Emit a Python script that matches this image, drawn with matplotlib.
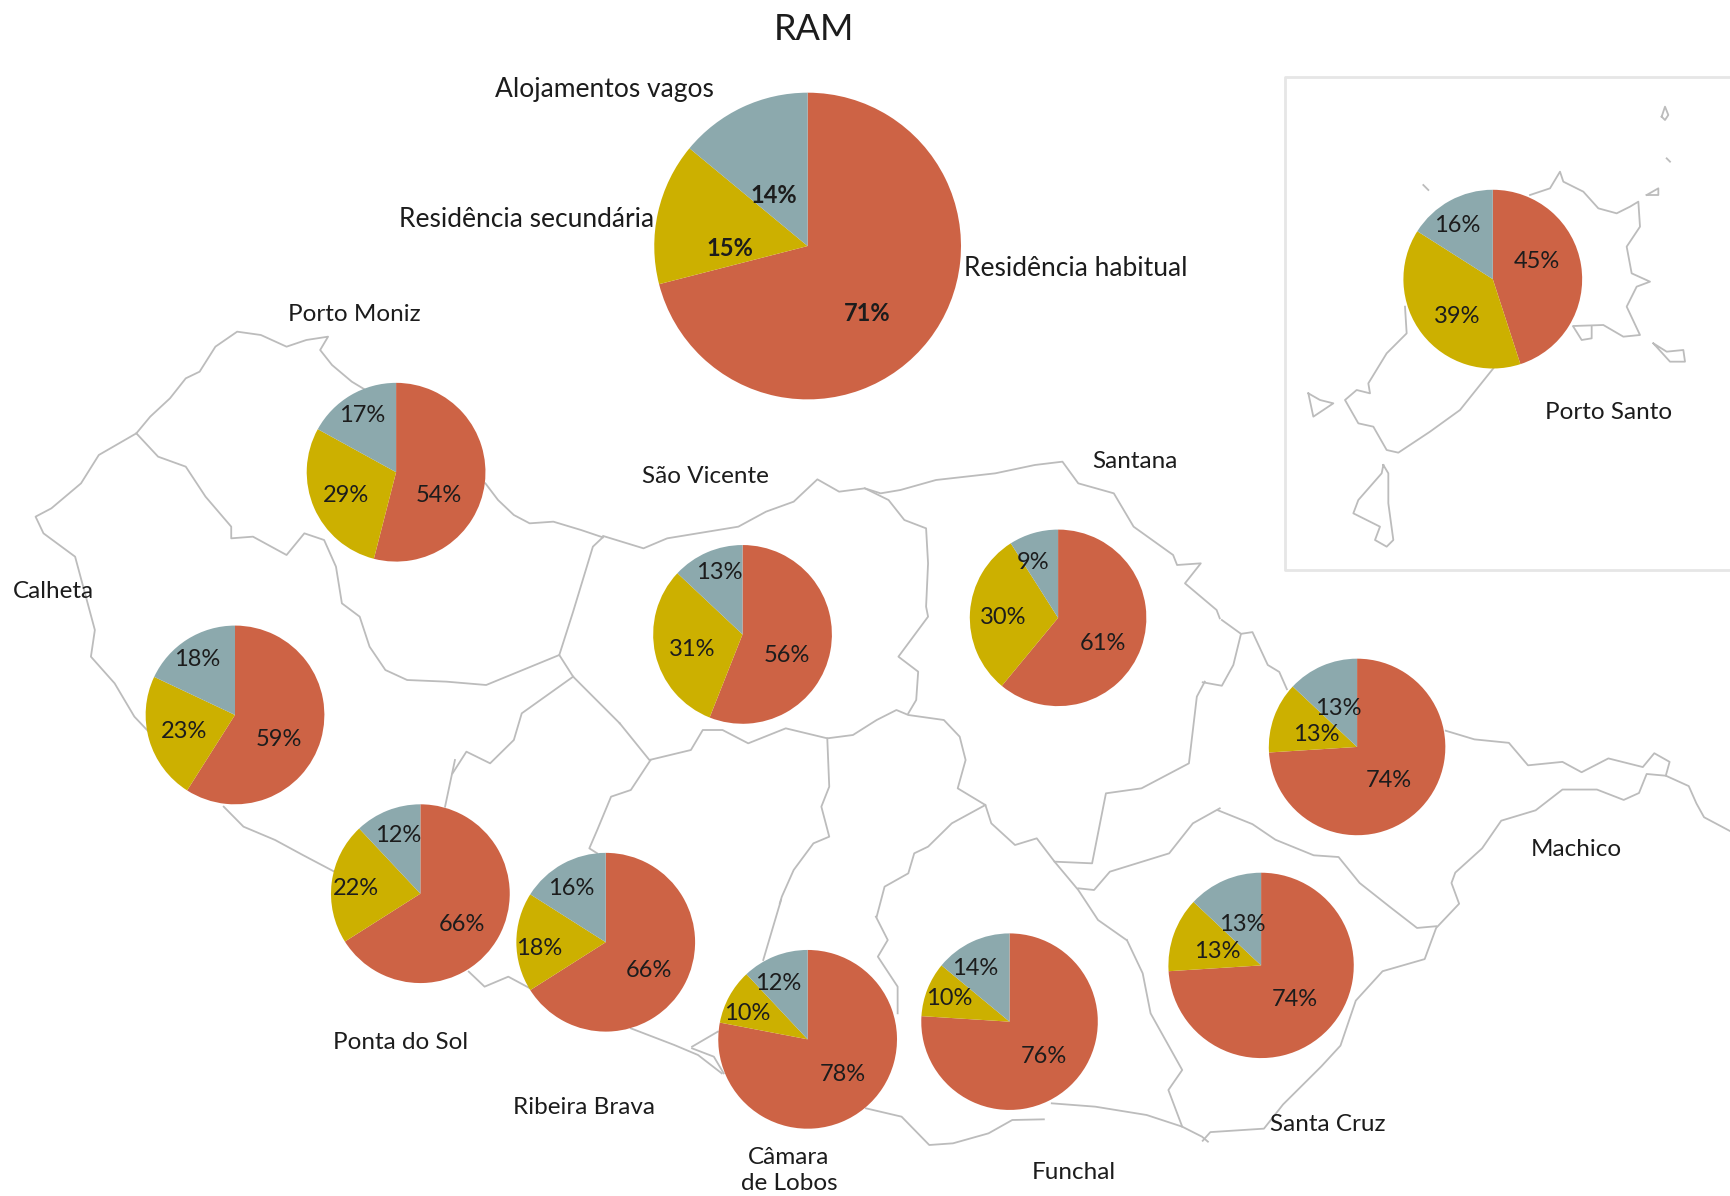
# plot.py
# Housing use by municipality, pies over a map of Madeira and Porto Santo.

import matplotlib.pyplot as plt

plt.rcParams["font.family"] = ["Lato", "DejaVu Sans"]

OUT_NAME = "out.png"
WIDTH = 1730
HEIGHT = 1196
SHOWN = 1730 / 1568  # pie and label places below were read at 1568 wide

RED = "#cd6345"
YELLOW = "#ccb000"
GREY = "#8ca9ad"
LINE = "#bcbcbc"
INK = "#1c1c1c"

categories = ["Residência habitual", "Residência secundária", "Alojamentos vagos"]
regions = ["RAM", "Porto Santo", "Porto Moniz", "São Vicente", "Santana", "Calheta",
           "Ponta do Sol", "Ribeira Brava", "Câmara de Lobos", "Funchal", "Santa Cruz", "Machico"]
habitual = [71, 45, 54, 56, 61, 59, 66, 66, 78, 76, 74, 74]
secundaria = [15, 39, 29, 31, 30, 23, 22, 18, 10, 10, 13, 13]
vagos = [14, 16, 17, 13, 9, 18, 12, 16, 12, 14, 13, 13]

# pie centre and radius
pie_places = [(732, 223, 139), (1353, 253, 81), (359, 428, 81), (673, 575, 81),
              (959, 560, 80), (213, 648, 81), (381, 810, 81), (549, 854, 81),
              (732, 942, 81), (915, 926, 80), (1143, 875, 84), (1230, 677, 80)]

# label centres: habitual, secundaria, vagos
label_places = [
    [(786, 282), (662, 223), (701, 175)],
    [(1393, 235), (1321, 285), (1321, 202)],
    [(398, 447), (314, 447), (328, 375)],
    [(713, 592), (627, 587), (652, 517)],
    [(1000, 581), (909, 558), (936, 508)],
    [(253, 668), (167, 661), (179, 596)],
    [(419, 836), (323, 803), (361, 755)],
    [(588, 878), (489, 858), (518, 803)],
    [(764, 972), (677, 917), (705, 889)],
    [(946, 956), (860, 903), (884, 876)],
    [(1174, 904), (1103, 860), (1126, 836)],
    [(1259, 705), (1193, 664), (1213, 640)],
]

names = [("Porto Moniz", 321, 283), ("São Vicente", 639, 430), ("Santana", 1029, 416),
         ("Calheta", 48, 534), ("Porto Santo", 1458, 372), ("Machico", 1429, 768),
         ("Ponta do Sol", 363, 943), ("Ribeira Brava", 529, 1002),
         ("Câmara\nde Lobos", 715, 1059), ("Funchal", 973, 1061), ("Santa Cruz", 1203, 1017)]
category_places = [(975, 241), (477, 197), (548, 79)]

west_map = (0, 300, 2.53, 3, [
    [(345, 400), (380, 350), (430, 295), (470, 235), (505, 215), (545, 140), (600, 95), (660, 105),
     (725, 140), (775, 120), (830, 110), (810, 150), (840, 195), (890, 245), (925, 270)],
    [(1228, 550), (1260, 600), (1300, 645), (1340, 670), (1400, 665), (1470, 690), (1525, 712)],
    [(345, 400), (250, 465), (205, 550), (130, 625), (90, 650), (110, 700), (190, 770), (215, 880),
     (240, 990), (230, 1070), (290, 1150), (340, 1250), (380, 1300)],
    [(345, 400), (400, 470), (470, 500), (520, 590), (585, 680), (585, 715), (640, 710), (725, 765),
     (770, 700), (820, 720), (850, 800), (865, 910), (910, 950), (935, 1040), (975, 1110), (1030, 1140),
     (1130, 1145), (1230, 1155), (1415, 1065), (1450, 1130), (1568, 1270)],
    [(1415, 1065), (1450, 935), (1500, 740), (1525, 712)],
    [(1450, 1130), (1320, 1240), (1300, 1320), (1240, 1390), (1180, 1355), (1145, 1420)],
])
middle_map = (600, 440, 2.53, 3, [
    [(8, 288), (110, 325), (170, 295), (350, 260), (420, 215), (490, 185), (550, 118), (605, 155),
     (670, 145), (710, 160), (760, 150), (850, 120), (1000, 100), (1100, 75), (1170, 65), (1210, 130),
     (1300, 160), (1350, 260), (1450, 345), (1460, 375), (1520, 370), (1480, 430), (1560, 510), (1568, 535)],
    [(670, 145), (730, 180), (770, 240), (825, 265), (830, 370), (825, 500), (830, 530), (755, 650),
     (805, 695), (800, 780), (780, 820)],
    [(50, 850), (125, 960), (230, 930), (260, 870), (310, 870), (375, 910), (470, 865), (575, 895),
     (640, 885), (700, 840), (750, 810), (780, 825), (870, 840), (910, 890), (925, 960), (905, 1045),
     (975, 1095), (990, 1150), (1050, 1215), (1105, 1195), (1150, 1265), (1245, 1270), (1280, 1060),
     (1370, 1045), (1490, 970), (1510, 770), (1530, 725)],
    [(575, 895), (580, 1040), (560, 1100), (580, 1190), (540, 1210), (490, 1290), (460, 1370), (455, 1390)],
    [(975, 1095), (890, 1150), (830, 1220), (795, 1240), (780, 1300), (720, 1340), (700, 1430)],
    [(1150, 1265), (1210, 1350), (1260, 1440), (1332, 1500)],
    [(1210, 1345), (1250, 1350), (1290, 1295), (1440, 1240), (1500, 1150), (1568, 1105)],
])
east_map = (1130, 620, 2.613, 2.89, [
    [(240, 0), (290, 40), (320, 35), (360, 130), (390, 150), (410, 200)],
    [(290, 40), (270, 130), (240, 190), (190, 180)],
    [(825, 320), (900, 345), (990, 355), (1040, 420), (1130, 410), (1180, 440), (1250, 400), (1340, 425),
     (1370, 385), (1410, 410), (1400, 450), (1460, 480), (1480, 530), (1500, 570), (1568, 610)],
    [(1400, 450), (1350, 445), (1330, 500), (1290, 520), (1220, 490), (1130, 490), (1060, 550), (970, 580),
     (920, 660), (850, 730), (840, 760), (860, 820), (800, 890), (770, 980), (660, 1015), (590, 1100),
     (550, 1230), (500, 1290), (400, 1400), (350, 1470), (210, 1480), (190, 1505)],
    [(230, 550), (320, 590), (380, 635), (480, 680), (545, 685), (600, 760), (680, 830), (750, 890), (800, 885)],
])
south_map = (200, 760, 2.53, 3, [
    [(60, 140), (110, 200), (190, 240), (260, 285), (340, 335)],
    [(680, 635), (720, 680), (780, 650), (835, 685)],
    [(1090, 805), (1200, 855), (1260, 885), (1320, 940)],
    [(1245, 860), (1310, 815)],
    [(1245, 865), (1300, 890), (1325, 940)],
    [(645, 0), (620, 140)],
    [(1140, 0), (1090, 90), (1040, 110), (1005, 210), (985, 265), (1005, 280)],
    [(1470, 420), (1445, 520), (1425, 600)],
])
funchal_map = (700, 880, 2.53, 3, [
    [(420, 685), (510, 710), (580, 795), (640, 790), (730, 760), (790, 720), (870, 718)],
    [(890, 670), (1000, 680), (1130, 705), (1220, 740), (1270, 770), (1285, 785)],
    [(445, 110), (475, 180), (450, 230), (500, 320), (500, 400)],
    [(1080, 180), (1120, 280), (1140, 400), (1220, 570), (1185, 630), (1220, 740)],
])
porto_santo_map = (1270, 60, 3, 3, [
    [(780, 405), (840, 385), (870, 335), (880, 365), (940, 395), (985, 445), (1040, 460), (1080, 440),
     (1105, 425), (1110, 500), (1070, 560), (1085, 640), (1140, 665), (1100, 680), (1070, 740), (1110, 825),
     (1060, 830), (1000, 795), (910, 798)],
    [(910, 800), (935, 840), (965, 835), (965, 800)],
    [(405, 740), (410, 820), (350, 880), (295, 970), (300, 1000), (260, 990), (225, 1020), (265, 1090),
     (310, 1100), (350, 1170), (385, 1178), (480, 1115), (570, 1050), (670, 925)],
    [(115, 1000), (150, 1020), (190, 1030), (130, 1070), (115, 1000)],
    [(340, 1215), (355, 1240), (355, 1330), (370, 1440), (350, 1460), (315, 1440), (330, 1400), (290, 1380),
     (250, 1360), (265, 1320), (335, 1240), (340, 1215)],
    [(1150, 850), (1190, 875), (1240, 870), (1245, 905), (1200, 905), (1150, 850)],
    [(1175, 170), (1185, 140), (1195, 165), (1185, 180), (1175, 170)],
    [(1130, 405), (1165, 385), (1165, 405), (1130, 405)],
    [(1190, 295), (1200, 305)],
    [(460, 375), (475, 390)],
])

def draw_outline(ax, crop):
  left, top, sx, sy, lines = crop
  for line in lines:
    x = [left + p[0] / sx for p in line]
    y = [top + p[1] / sy for p in line]
    ax.plot(x, y, color=LINE, linewidth=1.3, zorder=1)

def put_text(ax, x, y, text, size, weight="normal"):
  ax.text(x * SHOWN, (y + 2) * SHOWN, text, ha="center", va="center", fontsize=size,
          color=INK, weight=weight, linespacing=1.3, zorder=3)

def main():
  fig = plt.figure(figsize=(WIDTH / 100, HEIGHT / 100), dpi=100)
  ax = fig.add_axes([0, 0, 1, 1])

  for crop in [west_map, middle_map, east_map, south_map, funchal_map, porto_santo_map]:
    draw_outline(ax, crop)

  # Porto Santo inset frame
  ax.plot([1731, 1285, 1285, 1731], [77, 77, 570, 570], color="#e6e6e6", linewidth=2, zorder=1)

  colors = [RED, YELLOW, GREY]
  for i, region in enumerate(regions):
    cx, cy, r = pie_places[i]
    values = [habitual[i], secundaria[i], vagos[i]]
    # y axis points down here, so this runs clockwise from the top
    ax.pie(values, colors=colors, startangle=-90, counterclock=True,
           center=(cx * SHOWN, cy * SHOWN), radius=r * SHOWN,
           wedgeprops={"zorder": 2, "linewidth": 0})
    weight = "bold" if region == "RAM" else "normal"
    for value, place in zip(values, label_places[i]):
      put_text(ax, place[0], place[1], f"{value}%", 17, weight)

  for name, x, y in names:
    put_text(ax, x, y, name, 17.5)
  for name, place in zip(categories, category_places):
    put_text(ax, place[0], place[1], name, 19)

  put_text(ax, 738, 25, "RAM", 26)

  ax.set_xlim(0, WIDTH)
  ax.set_ylim(HEIGHT, 0)
  ax.set_aspect("auto")
  ax.axis("off")

  fig.savefig(OUT_NAME, dpi=100)

if __name__ == "__main__":
  main()
